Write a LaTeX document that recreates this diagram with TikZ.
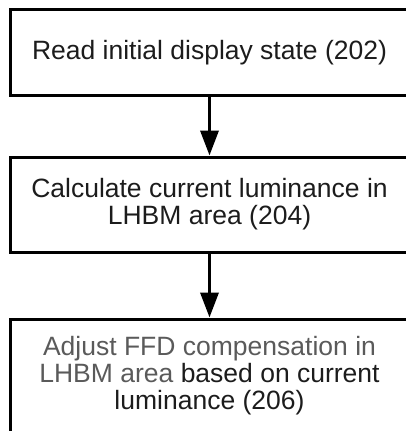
\documentclass[tikz,border=0pt]{standalone}
\usepackage{fontspec}
\setmainfont{Liberation Sans}
\usepackage{tikz}
\usetikzlibrary{arrows.meta}
\usepackage{xcolor}

\definecolor{inkdark}{HTML}{1C1C1C}
\definecolor{inkgray}{HTML}{5A5A5A}

\tikzset{
    stepbox/.style={draw=black, line width=3pt, rectangle, minimum width=398pt,
        align=center, text=inkdark, inner sep=0pt,
        font=\fontsize{26.5}{27}\selectfont},
    flow/.style={-{Triangle[width=18pt,length=25pt]}, line width=3.5pt, draw=black}
}

\begin{document}
\begin{tikzpicture}[x=1pt,y=1pt]
            \useasboundingbox (0,0) rectangle (406,-431);
            \clip (0,0) rectangle (406,-431);
            \node[stepbox, minimum height=86pt](read)    at (209.5,-52.3)  {Read initial display state (202)};
            \node[stepbox, minimum height=95pt](calc)    at (209.5,-204.5) {Calculate current luminance in\\LHBM area (204)};
            \node[stepbox, minimum height=114pt, text=inkgray](adjust) at (209.5,-376)
                {Adjust FFD compensation in\\LHBM area \textcolor{inkdark}{based on current}\\\textcolor{inkdark}{luminance (206)}};
            \path
                (read) edge [flow] (calc)
                (calc) edge [flow] (adjust)
                ;
        \end{tikzpicture}
\end{document}
